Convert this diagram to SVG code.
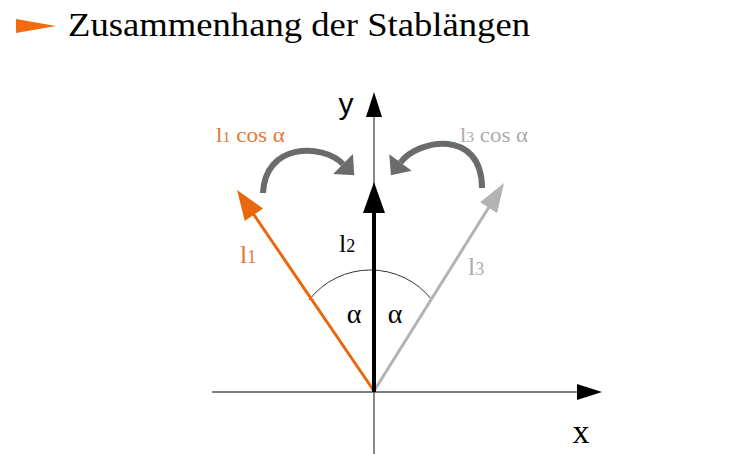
<svg xmlns="http://www.w3.org/2000/svg" width="750" height="454" viewBox="0 0 750 454">
<style>
.serif{font-family:"Liberation Serif","DejaVu Serif",serif}
.sans{font-family:"Liberation Sans","DejaVu Sans",sans-serif}
.axis{stroke:#555;stroke-width:1.4;fill:none}
.curv{stroke:#6b6b6b;stroke-width:6;fill:none}
</style>
<defs>
<marker id="axhead" markerUnits="userSpaceOnUse" markerWidth="26" markerHeight="16" refX="0" refY="8" orient="auto" overflow="visible"><path d="M0,0 L25,8 L0,16 z" fill="#000"/></marker>
<marker id="hBlack" markerUnits="userSpaceOnUse" markerWidth="31" markerHeight="22" refX="11" refY="11" orient="auto" overflow="visible"><path d="M0,0 L31,11 L0,22 z" fill="#000"/></marker>
<marker id="hOrange" markerUnits="userSpaceOnUse" markerWidth="30" markerHeight="22" refX="10" refY="11" orient="auto" overflow="visible"><path d="M0,0 L30,11 L0,22 z" fill="#e8680e"/></marker>
<marker id="hGray" markerUnits="userSpaceOnUse" markerWidth="29" markerHeight="20" refX="9" refY="10" orient="auto" overflow="visible"><path d="M0,0 L29,10 L0,20 z" fill="#b3b3b3"/></marker>
<marker id="hCurv" markerUnits="userSpaceOnUse" markerWidth="16" markerHeight="28" refX="0" refY="14" orient="auto" overflow="visible"><path d="M0,0 L16,14 L0,28 z" fill="#6b6b6b"/></marker>
</defs>
<g id="title">
<path d="M16,19 L56,26 L16,33 z" fill="#f26c0f"/>
<text class="serif" x="68" y="36" font-size="34" fill="#000" textLength="462" lengthAdjust="spacingAndGlyphs">Zusammenhang der Stablängen</text>
</g>
<g id="connectors">
<line id="x-axis" class="axis" x1="212" y1="392" x2="577" y2="392" marker-end="url(#axhead)"/>
<line id="y-axis" class="axis" x1="374" y1="454" x2="374" y2="117" marker-end="url(#axhead)"/>
<path id="angle-arc" d="M309,300 A78,78 0 0 1 432,300" stroke="#333" stroke-width="1" fill="none"/>
<line id="l1-vec" x1="374" y1="391" x2="248.3" y2="206.5" stroke="#e8680e" stroke-width="3" marker-end="url(#hOrange)"/>
<line id="l3-vec" x1="374" y1="391" x2="493.4" y2="200" stroke="#b3b3b3" stroke-width="3" marker-end="url(#hGray)"/>
<line id="l2-vec" x1="374" y1="392" x2="374" y2="202" stroke="#000" stroke-width="4" marker-end="url(#hBlack)"/>
<path id="curv-left" class="curv" d="M263,193 C265,143 322,143 343,164" marker-end="url(#hCurv)"/>
<path id="curv-right" class="curv" d="M482,188 C482,128 418,139 400.5,162.5" marker-end="url(#hCurv)"/>
</g>
<g id="labels">
<text class="sans" x="346" y="114" font-size="30" text-anchor="middle" fill="#000">y</text>
<text class="serif" x="581" y="443" font-size="34" text-anchor="middle" fill="#000">x</text>
<text class="serif" x="216" y="142" font-size="22" fill="#e07a35" textLength="69" lengthAdjust="spacingAndGlyphs">l<tspan font-size="15">1</tspan> cos α</text>
<text class="serif" x="460" y="142" font-size="22" fill="#ababab" textLength="68" lengthAdjust="spacingAndGlyphs">l<tspan font-size="15">3</tspan> cos α</text>
<text class="serif" x="240" y="263" font-size="26" fill="#e07a35">l<tspan font-size="18">1</tspan></text>
<text class="serif" x="339" y="252" font-size="26" fill="#000">l<tspan font-size="18">2</tspan></text>
<text class="serif" x="468" y="275" font-size="26" fill="#ababab">l<tspan font-size="18">3</tspan></text>
<text class="serif" x="354" y="323" font-size="28" text-anchor="middle" fill="#000">α</text>
<text class="serif" x="395" y="323" font-size="28" text-anchor="middle" fill="#000">α</text>
</g>
</svg>
